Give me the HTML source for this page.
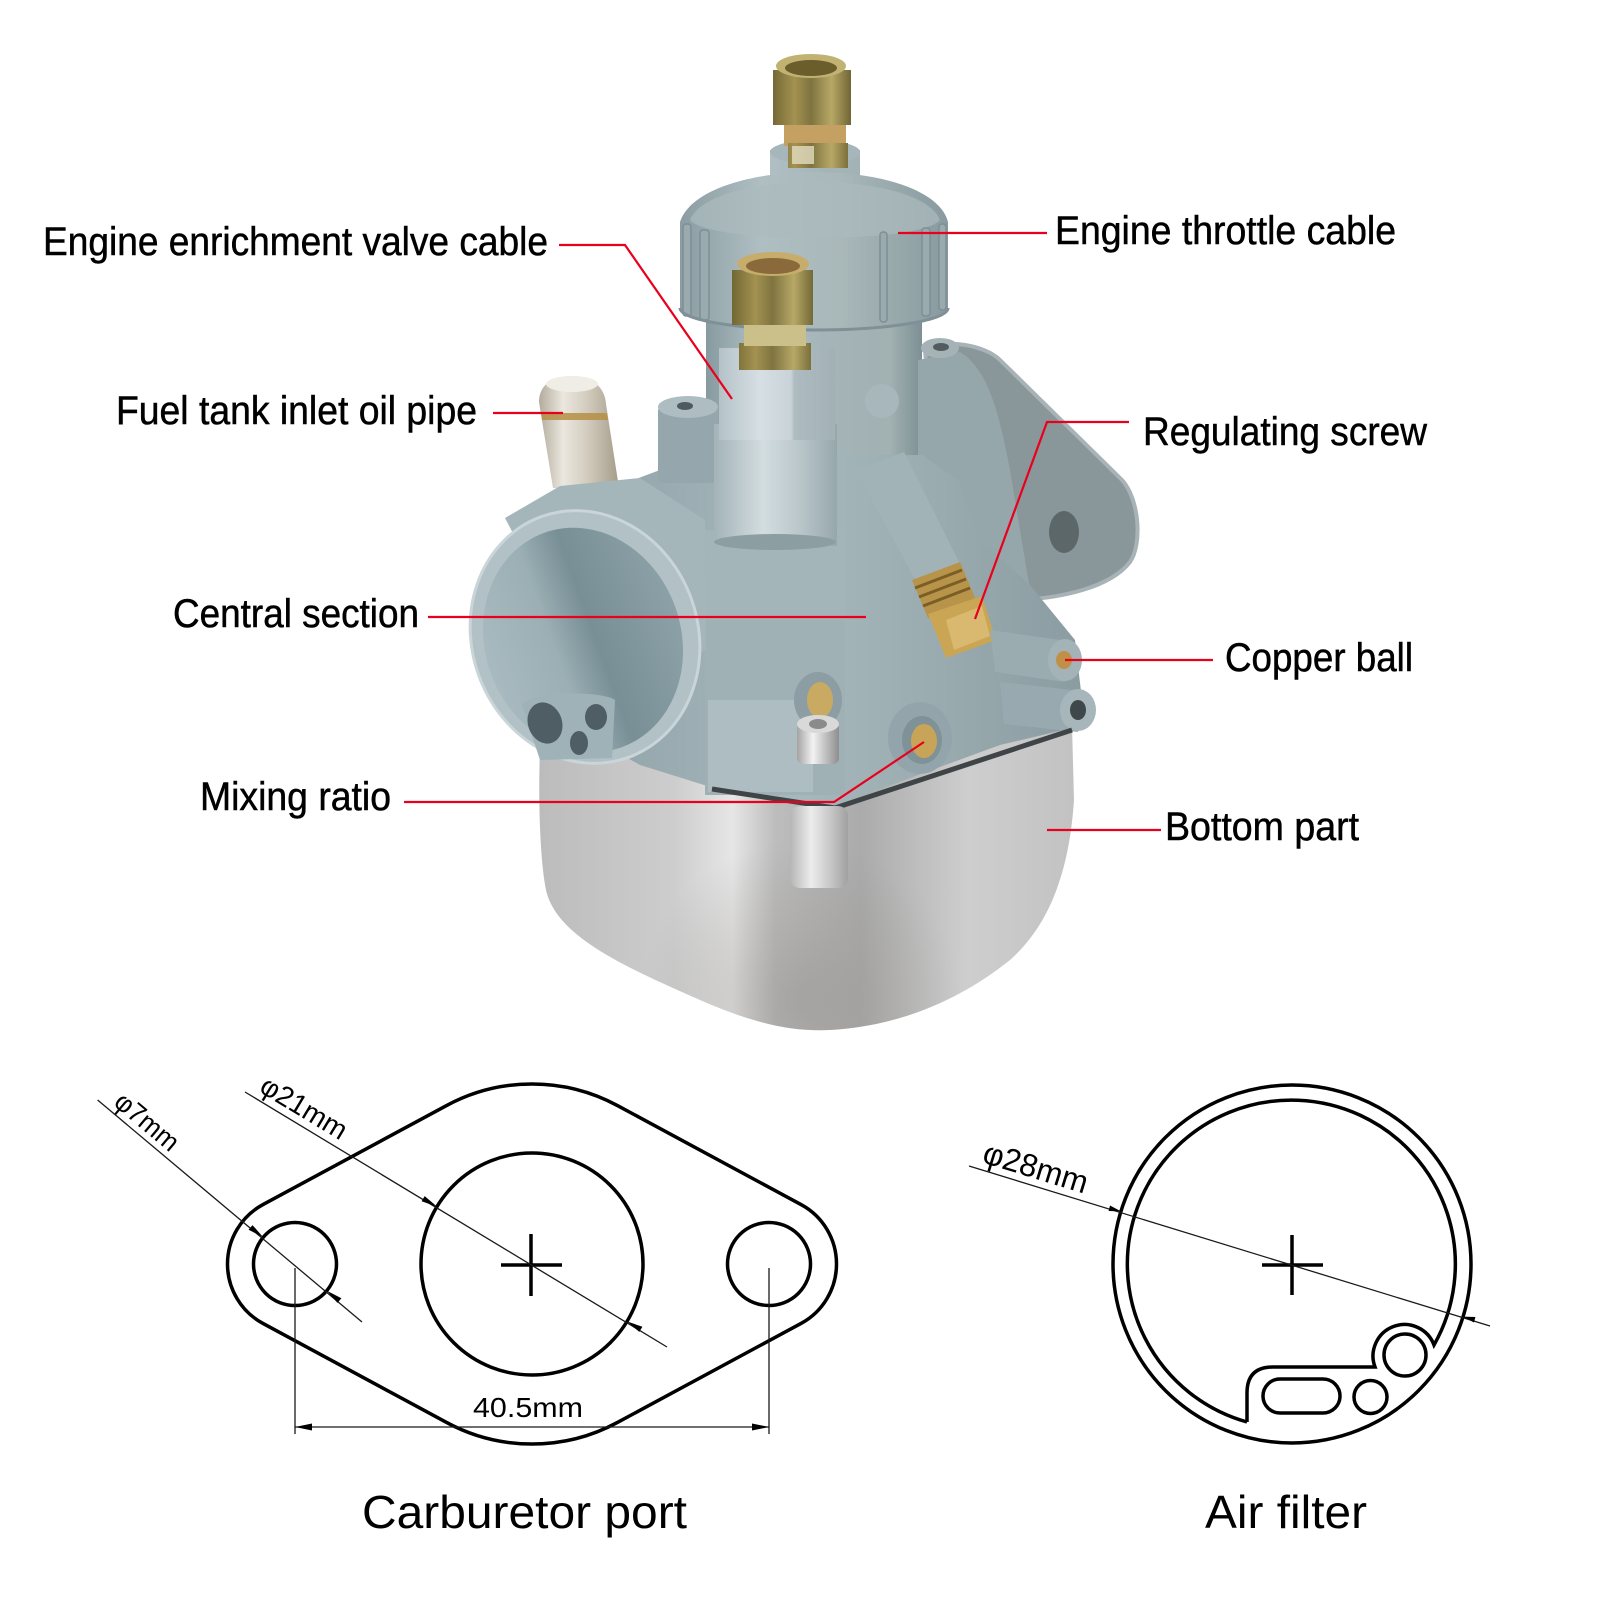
<!DOCTYPE html>
<html>
<head>
<meta charset="utf-8">
<style>
html,body{margin:0;padding:0;background:#fff;}
svg{display:block;}
.lb{font-family:"Liberation Sans",Arial,sans-serif;font-size:40px;fill:#000;stroke:#000;stroke-width:0.5;}
.dm{font-family:"Liberation Sans",Arial,sans-serif;fill:#000;}
</style>
</head>
<body>
<svg width="1600" height="1600" viewBox="0 0 1600 1600" xmlns="http://www.w3.org/2000/svg">
<defs>
  <linearGradient id="gBowl" gradientUnits="userSpaceOnUse" x1="540" y1="0" x2="1075" y2="0">
    <stop offset="0" stop-color="#bcbcbc"/>
    <stop offset="0.25" stop-color="#cdcdcd"/>
    <stop offset="0.36" stop-color="#e6e6e6"/>
    <stop offset="0.44" stop-color="#bdbdbd"/>
    <stop offset="0.6" stop-color="#ababab"/>
    <stop offset="0.8" stop-color="#cecece"/>
    <stop offset="1" stop-color="#c2c2c2"/>
  </linearGradient>
  <radialGradient id="gBowlShade" cx="800" cy="1000" r="160" gradientUnits="userSpaceOnUse">
    <stop offset="0" stop-color="#8f8a86" stop-opacity="0.45"/>
    <stop offset="1" stop-color="#8f8a86" stop-opacity="0"/>
  </radialGradient>
  <linearGradient id="gCyl" gradientUnits="userSpaceOnUse" x1="706" y1="0" x2="922" y2="0">
    <stop offset="0" stop-color="#879a9f"/>
    <stop offset="0.25" stop-color="#b1c1c5"/>
    <stop offset="0.55" stop-color="#a4b4b8"/>
    <stop offset="0.85" stop-color="#a2b1b2"/>
    <stop offset="1" stop-color="#7e9095"/>
  </linearGradient>
  <linearGradient id="gLid" gradientUnits="userSpaceOnUse" x1="680" y1="0" x2="948" y2="0">
    <stop offset="0" stop-color="#8b9da2"/>
    <stop offset="0.3" stop-color="#aebec2"/>
    <stop offset="0.6" stop-color="#a9b8b9"/>
    <stop offset="1" stop-color="#889a9f"/>
  </linearGradient>
  <linearGradient id="gBody" gradientUnits="userSpaceOnUse" x1="600" y1="0" x2="1085" y2="0">
    <stop offset="0" stop-color="#92a5aa"/>
    <stop offset="0.4" stop-color="#a7b8bc"/>
    <stop offset="0.7" stop-color="#9aabaf"/>
    <stop offset="1" stop-color="#8a9ca1"/>
  </linearGradient>
  <linearGradient id="gBrass" gradientUnits="userSpaceOnUse" x1="770" y1="0" x2="852" y2="0">
    <stop offset="0" stop-color="#6f6432"/>
    <stop offset="0.3" stop-color="#a39250"/>
    <stop offset="0.5" stop-color="#7f7440"/>
    <stop offset="0.75" stop-color="#b7a866"/>
    <stop offset="1" stop-color="#6d6231"/>
  </linearGradient>
  <linearGradient id="gBrass2" gradientUnits="userSpaceOnUse" x1="730" y1="0" x2="815" y2="0">
    <stop offset="0" stop-color="#6f6432"/>
    <stop offset="0.3" stop-color="#a39250"/>
    <stop offset="0.5" stop-color="#7f7440"/>
    <stop offset="0.75" stop-color="#b7a866"/>
    <stop offset="1" stop-color="#6d6231"/>
  </linearGradient>
  <linearGradient id="gSil" gradientUnits="userSpaceOnUse" x1="714" y1="0" x2="837" y2="0">
    <stop offset="0" stop-color="#a3b3b8"/>
    <stop offset="0.4" stop-color="#d3dde0"/>
    <stop offset="0.7" stop-color="#b9c6ca"/>
    <stop offset="1" stop-color="#96a7ac"/>
  </linearGradient>
  <linearGradient id="gHex" gradientUnits="userSpaceOnUse" x1="719" y1="0" x2="835" y2="0">
    <stop offset="0" stop-color="#b4c2c7"/>
    <stop offset="0.35" stop-color="#d6dfe3"/>
    <stop offset="0.62" stop-color="#c9d3d8"/>
    <stop offset="0.65" stop-color="#aebcc1"/>
    <stop offset="1" stop-color="#a2b1b6"/>
  </linearGradient>
  <linearGradient id="gPipe" gradientUnits="userSpaceOnUse" x1="539" y1="0" x2="619" y2="0">
    <stop offset="0" stop-color="#b3ab9c"/>
    <stop offset="0.3" stop-color="#ebe7df"/>
    <stop offset="0.6" stop-color="#d3ccbe"/>
    <stop offset="1" stop-color="#a59c8a"/>
  </linearGradient>
  <linearGradient id="gBellIn" gradientUnits="userSpaceOnUse" x1="480" y1="0" x2="690" y2="0">
    <stop offset="0" stop-color="#a9bbc0"/>
    <stop offset="0.35" stop-color="#9bafb4"/>
    <stop offset="0.55" stop-color="#788f96"/>
    <stop offset="1" stop-color="#8ea3a9"/>
  </linearGradient>
  <linearGradient id="gChrome" gradientUnits="userSpaceOnUse" x1="795" y1="0" x2="840" y2="0">
    <stop offset="0" stop-color="#9a9a9a"/>
    <stop offset="0.4" stop-color="#f2f2f2"/>
    <stop offset="0.7" stop-color="#bdbdbd"/>
    <stop offset="1" stop-color="#8a8a8a"/>
  </linearGradient>
  <linearGradient id="gPost" gradientUnits="userSpaceOnUse" x1="790" y1="0" x2="850" y2="0">
    <stop offset="0" stop-color="#b5b5b5"/>
    <stop offset="0.35" stop-color="#ececec"/>
    <stop offset="0.7" stop-color="#c4c4c4"/>
    <stop offset="1" stop-color="#9c9c9c"/>
  </linearGradient>
</defs>

<rect width="1600" height="1600" fill="#ffffff"/>

<!-- bowl -->
<path d="M540,748 C538,800 540,860 546,890 C556,935 620,965 700,1000 C750,1022 790,1032 830,1030 C900,1026 960,1000 1010,960 C1055,920 1070,860 1074,800 L1072,725 L1000,742 L830,800 L720,782 L640,760 Z" fill="url(#gBowl)"/>
<path d="M540,748 C538,800 540,860 546,890 C556,935 620,965 700,1000 C750,1022 790,1032 830,1030 C900,1026 960,1000 1010,960 C1055,920 1070,860 1074,800 L1072,725 L1000,742 L830,800 L720,782 L640,760 Z" fill="url(#gBowlShade)"/>

<!-- right mounting flange -->
<path d="M925,350 C945,338 985,345 1000,360 L1122,480 C1140,500 1142,545 1130,562 C1110,588 1060,598 1020,600 L975,570 L935,470 Z" fill="#8a979a" stroke="#a7b3b6" stroke-width="4"/>
<ellipse cx="1064" cy="532" rx="15" ry="21" fill="#5c676a"/>

<!-- fuel pipe -->
<path d="M539,402 C539,385 552,376 572,376 C593,376 605,388 606,404 L619,488 L553,488 Z" fill="url(#gPipe)"/>
<ellipse cx="572" cy="384" rx="26" ry="8" fill="#f0ede7"/>
<polygon points="541,413 607,413 608,420 542,420" fill="#b58f45" opacity="0.85"/>

<!-- main cylinder -->
<rect x="706" y="300" width="216" height="220" fill="url(#gCyl)"/>
<circle cx="882" cy="401" r="17" fill="#a8b7bb"/>

<!-- throat area right of cylinder -->
<path d="M918,360 L960,352 C990,370 1000,420 1010,470 L1030,590 L960,600 L918,520 Z" fill="#96a7ab"/>
<ellipse cx="940" cy="348" rx="19" ry="10" fill="#a5b3b6"/>
<ellipse cx="941" cy="347" rx="8" ry="4" fill="#525c5f"/>

<!-- body -->
<path d="M612,488 L660,470 L706,455 L922,455 L958,480 L980,540 L1030,585 L1075,640 L1082,700 L1072,728 L1000,745 L850,800 L830,812 L720,790 L640,765 L600,742 Z" fill="url(#gBody)"/>

<!-- left boss -->
<rect x="658" y="405" width="60" height="78" rx="6" fill="#95a7ac"/>
<ellipse cx="688" cy="407" rx="30" ry="11" fill="#aebdc1"/>
<ellipse cx="685" cy="406" rx="8" ry="4" fill="#4e5a5e"/>

<!-- lid -->
<rect x="770" y="150" width="90" height="50" fill="url(#gCyl)"/>
<ellipse cx="815" cy="152" rx="45" ry="12" fill="#a6b6ba"/>
<path d="M680,222 C690,190 750,172 815,172 C880,172 940,190 948,222 L948,308 C948,320 890,328 815,328 C740,328 680,320 680,308 Z" fill="url(#gLid)"/>
<path d="M690,220 C700,195 755,182 815,182 C875,182 930,195 940,220 C930,232 875,238 815,238 C755,238 700,232 690,220 Z" fill="#abbabd" opacity="0.7"/>
<g fill="#9aabb0" stroke="#7d8f94" stroke-width="1.5">
  <rect x="683" y="224" width="8" height="92" rx="3"/>
  <rect x="700" y="230" width="9" height="90" rx="3"/>
  <rect x="880" y="232" width="7" height="90" rx="3"/>
  <rect x="922" y="228" width="8" height="88" rx="3"/>
  <rect x="939" y="224" width="7" height="86" rx="3"/>
</g>
<path d="M680,308 C680,320 740,330 815,330 C890,330 948,320 948,308" fill="none" stroke="#7f9196" stroke-width="3"/>

<!-- top nut -->
<rect x="784" y="120" width="62" height="26" fill="#c4a062"/>
<rect x="788" y="143" width="60" height="25" fill="url(#gBrass)"/>
<rect x="792" y="146" width="22" height="18" fill="#e4dcc0" opacity="0.8"/>
<rect x="773" y="70" width="78" height="55" fill="url(#gBrass)"/>
<ellipse cx="811" cy="66" rx="35" ry="12" fill="#c2b272"/>
<ellipse cx="811" cy="68" rx="26" ry="8" fill="#6b5d2c"/>

<!-- diagonal tube -->
<polygon points="856,470 904,452 964,572 924,596" fill="#a2b3b7"/>
<polygon points="912,580 960,562 976,600 928,618" fill="#b8944a"/>
<g stroke="#7a5e25" stroke-width="3">
  <line x1="915" y1="588" x2="962" y2="570"/>
  <line x1="919" y1="597" x2="966" y2="579"/>
  <line x1="923" y1="606" x2="970" y2="588"/>
</g>
<polygon points="928,614 982,596 996,640 946,658" fill="#caa554"/>
<polygon points="946,620 982,606 990,636 954,650" fill="#e0c27a" opacity="0.7"/>

<!-- column base -->
<rect x="703" y="530" width="142" height="95" fill="#a4b5ba"/>
<rect x="705" y="620" width="140" height="175" fill="#a0b1b6"/>
<rect x="708" y="700" width="105" height="92" fill="#aebdc1"/>

<!-- enrichment cylinder -->
<rect x="714" y="424" width="123" height="122" fill="url(#gSil)"/>
<ellipse cx="775" cy="542" rx="61" ry="8" fill="#8d9ea3"/>
<rect x="719" y="348" width="116" height="92" fill="url(#gHex)"/>
<rect x="739" y="343" width="72" height="27" fill="url(#gBrass2)"/>
<rect x="744" y="322" width="62" height="24" fill="#cbc08a"/>
<rect x="732" y="270" width="81" height="55" fill="url(#gBrass2)"/>
<ellipse cx="773" cy="264" rx="36" ry="12" fill="#c6ad6c"/>
<ellipse cx="773" cy="266" rx="27" ry="8" fill="#8a6a3a"/>

<!-- intake bell -->
<path d="M505,518 L560,486 L640,478 L705,520 L706,650 L600,700 Z" fill="#a5b6bb"/>
<ellipse cx="585" cy="637" rx="113" ry="128" transform="rotate(-20 585 637)" fill="#b1c1c5" stroke="#c9d5d8" stroke-width="3"/>
<ellipse cx="583" cy="640" rx="98" ry="114" transform="rotate(-20 583 640)" fill="url(#gBellIn)"/>
<path d="M522,705 C530,692 600,690 615,700 L612,758 L540,760 Z" fill="#9fb2b7"/>
<ellipse cx="545" cy="723" rx="17" ry="21" transform="rotate(-20 545 723)" fill="#4e5e64"/>
<ellipse cx="579" cy="743" rx="9" ry="12" fill="#4e5e64"/>
<ellipse cx="596" cy="717" rx="11" ry="13" fill="#4e5e64"/>

<!-- right side tubes / bosses -->
<polygon points="990,630 1060,640 1065,682 995,672" fill="#9aacb0"/>
<ellipse cx="1065" cy="660" rx="17" ry="21" fill="#a3b3b7"/>
<ellipse cx="1064" cy="660" rx="8" ry="9" fill="#c09048"/>
<polygon points="1000,682 1072,690 1078,732 1004,724" fill="#98aaaf"/>
<ellipse cx="1078" cy="710" rx="18" ry="21" fill="#a7b6ba"/>
<ellipse cx="1078" cy="710" rx="8" ry="10" fill="#3e484b"/>

<!-- gasket line -->
<polyline points="712,789 835,808 1072,730" fill="none" stroke="#3f4446" stroke-width="5"/>

<!-- bowl post -->
<rect x="790" y="806" width="58" height="82" rx="10" fill="url(#gPost)"/>

<!-- front brass screw and bosses -->
<ellipse cx="818" cy="700" rx="24" ry="28" fill="#8c9ea3"/>
<ellipse cx="820" cy="700" rx="13" ry="18" fill="#c9aa62"/>
<rect x="797" y="722" width="42" height="42" rx="6" fill="url(#gChrome)"/>
<ellipse cx="818" cy="724" rx="21" ry="9" fill="#d9d9d9"/>
<ellipse cx="818" cy="724" rx="9" ry="5" fill="#8a8a8a"/>
<ellipse cx="920" cy="738" rx="32" ry="36" fill="#93a5aa"/>
<ellipse cx="922" cy="740" rx="20" ry="24" fill="#7f9297"/>
<ellipse cx="924" cy="741" rx="13" ry="17" fill="#c8a458"/>

<!-- red leader lines -->
<g fill="none" stroke="#e8001c" stroke-width="2.2">
  <polyline points="559,245 625,245 732,399"/>
  <line x1="898" y1="233" x2="1047" y2="233"/>
  <line x1="493" y1="413" x2="563" y2="413"/>
  <polyline points="1129,422 1047,422 975,619"/>
  <line x1="428" y1="617" x2="866" y2="617"/>
  <line x1="1065" y1="660" x2="1213" y2="660"/>
  <polyline points="404,802 834,802 924,742"/>
  <line x1="1047" y1="830" x2="1161" y2="830"/>
</g>

<!-- labels -->
<text class="lb" x="43" y="255" textLength="505" lengthAdjust="spacingAndGlyphs">Engine enrichment valve cable</text>
<text class="lb" x="1055" y="244" textLength="341" lengthAdjust="spacingAndGlyphs">Engine throttle cable</text>
<text class="lb" x="116" y="424" textLength="361" lengthAdjust="spacingAndGlyphs">Fuel tank inlet oil pipe</text>
<text class="lb" x="1143" y="445" textLength="284" lengthAdjust="spacingAndGlyphs">Regulating screw</text>
<text class="lb" x="173" y="627" textLength="246" lengthAdjust="spacingAndGlyphs">Central section</text>
<text class="lb" x="1225" y="671" textLength="188" lengthAdjust="spacingAndGlyphs">Copper ball</text>
<text class="lb" x="200" y="810" textLength="191" lengthAdjust="spacingAndGlyphs">Mixing ratio</text>
<text class="lb" x="1165" y="840" textLength="194" lengthAdjust="spacingAndGlyphs">Bottom part</text>

<!-- carburetor port drawing -->
<g fill="none" stroke="#000" stroke-width="3.5">
  <path d="M262.96,1204.59 L446.55,1105.56 A180,180 0 0 1 617.45,1105.56 L801.04,1204.59 A67.5,67.5 0 0 1 801.04,1323.41 L617.45,1422.44 A180,180 0 0 1 446.55,1422.44 L262.96,1323.41 A67.5,67.5 0 0 1 262.96,1204.59 Z"/>
  <circle cx="532" cy="1264" r="111"/>
  <circle cx="295" cy="1264" r="41.5"/>
  <circle cx="769" cy="1264" r="41.5"/>
  <line x1="501" y1="1265" x2="562" y2="1265"/>
  <line x1="531" y1="1234" x2="531" y2="1296"/>
</g>
<g fill="none" stroke="#1a1a1a" stroke-width="1.3">
  <line x1="97.6" y1="1100" x2="362" y2="1322"/>
  <line x1="245" y1="1092" x2="667" y2="1347"/>
  <line x1="295" y1="1268" x2="295" y2="1434"/>
  <line x1="769" y1="1268" x2="769" y2="1434"/>
  <line x1="295" y1="1427" x2="769" y2="1427"/>
</g>
<g fill="#000">
  <polygon points="263.2,1237.3 248.6,1229.7 252.5,1225.1"/>
  <polygon points="326.8,1290.7 341.4,1298.3 337.5,1302.9"/>
  <polygon points="437,1206.6 421.6,1201.2 424.7,1196.1"/>
  <polygon points="627,1321.4 642.4,1326.8 639.3,1331.9"/>
  <polygon points="295,1427 312,1423.5 312,1430.5"/>
  <polygon points="769,1427 752,1423.5 752,1430.5"/>
</g>
<text class="dm" font-size="27" transform="translate(112.5,1104.5) rotate(40)" textLength="75" lengthAdjust="spacingAndGlyphs">φ7mm</text>
<text class="dm" font-size="28" transform="translate(258,1091) rotate(31.1)" textLength="96" lengthAdjust="spacingAndGlyphs">φ21mm</text>
<text class="dm" font-size="28" x="473" y="1417" textLength="110" lengthAdjust="spacingAndGlyphs">40.5mm</text>
<text class="dm" font-size="46" x="362" y="1528" textLength="325" lengthAdjust="spacingAndGlyphs">Carburetor port</text>

<!-- air filter drawing -->
<g fill="none" stroke="#000" stroke-width="3.5">
  <circle cx="1292" cy="1264" r="179"/>
  <path d="M1247,1422 L1247,1393 Q1247,1367 1273,1367 L1375,1367 A30,30 0 1 1 1434,1345 A164,164 0 1 0 1247,1422"/>
  <rect x="1263" y="1379" width="77" height="34" rx="17"/>
  <circle cx="1370.5" cy="1397" r="16.5"/>
  <circle cx="1405" cy="1355" r="21"/>
  <line x1="1262" y1="1265" x2="1323" y2="1265"/>
  <line x1="1292" y1="1235" x2="1292" y2="1295"/>
</g>
<line x1="969" y1="1166" x2="1490" y2="1326" stroke="#1a1a1a" stroke-width="1.3"/>
<g fill="#000">
  <polygon points="1121,1211.4 1110,1205.5 1108.6,1211"/>
  <polygon points="1463,1316.6 1474,1322.5 1475.4,1317"/>
</g>
<text class="dm" font-size="32" transform="translate(981,1162) rotate(17.1)" textLength="108" lengthAdjust="spacingAndGlyphs">φ28mm</text>
<text class="dm" font-size="46" x="1205" y="1528" textLength="162" lengthAdjust="spacingAndGlyphs">Air filter</text>
</svg>
</body>
</html>
